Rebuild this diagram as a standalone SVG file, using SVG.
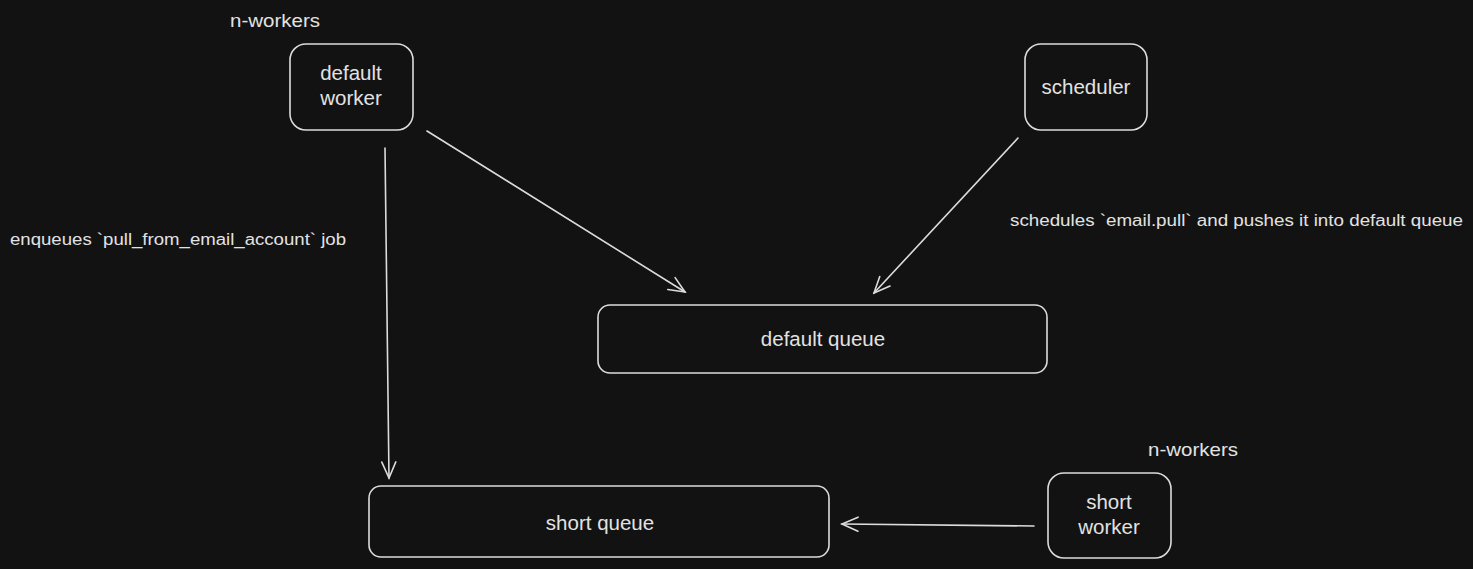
<svg xmlns="http://www.w3.org/2000/svg" width="1473" height="569" viewBox="0 0 1473 569">
<defs>
<style>
.box{fill:#121212;stroke:#dcdcdc;stroke-width:1.6}
.t{fill:#e2e2e2;font-family:"Liberation Sans",Arial,sans-serif;font-size:20.5px;text-anchor:middle}
.l{fill:#e2e2e2;font-family:"Liberation Sans",Arial,sans-serif;font-size:16px}
.n{fill:#e2e2e2;font-family:"Liberation Sans",Arial,sans-serif;font-size:19px}
.c{fill:none;stroke:#dcdcdc;stroke-width:1.6;stroke-linecap:round}
</style>
<marker id="ah" viewBox="0 0 20 20" refX="18" refY="10" markerWidth="20" markerHeight="20" markerUnits="userSpaceOnUse" orient="auto">
<path d="M2,3 L18,10 L2,17" fill="none" stroke="#dcdcdc" stroke-width="1.6" stroke-linecap="round"/>
</marker>
</defs>
<rect width="1473" height="569" fill="#121212"/>
<g id="labels">
<text class="n" x="230" y="27" textLength="90" lengthAdjust="spacingAndGlyphs">n-workers</text>
<text class="n" x="1148" y="456" textLength="90" lengthAdjust="spacingAndGlyphs">n-workers</text>
<text class="l" x="10" y="245" textLength="336" lengthAdjust="spacingAndGlyphs">enqueues `pull_from_email_account` job</text>
<text class="l" x="1010" y="226" textLength="453" lengthAdjust="spacingAndGlyphs">schedules `email.pull` and pushes it into default queue</text>
</g>
<g id="default-worker">
<rect class="box" x="290" y="44" width="123" height="86" rx="16"/>
<text class="t" x="351" y="80">default</text>
<text class="t" x="351" y="105">worker</text>
</g>
<g id="scheduler">
<rect class="box" x="1025" y="44" width="122" height="86" rx="16"/>
<text class="t" x="1086" y="94">scheduler</text>
</g>
<g id="default-queue">
<rect class="box" x="598" y="305" width="449" height="68" rx="12"/>
<text class="t" x="823" y="346">default queue</text>
</g>
<g id="short-queue">
<rect class="box" x="369" y="486" width="460" height="71" rx="12"/>
<text class="t" x="600" y="530">short queue</text>
</g>
<g id="short-worker">
<rect class="box" x="1048" y="473" width="123" height="85" rx="16"/>
<text class="t" x="1109" y="509">short</text>
<text class="t" x="1109" y="534">worker</text>
</g>
<g id="connectors">
<path class="c" d="M385,148 L389,478" marker-end="url(#ah)"/>
<path class="c" d="M427,131 L685,292" marker-end="url(#ah)"/>
<path class="c" d="M1018,138 L874,293" marker-end="url(#ah)"/>
<path class="c" d="M1034,526 L842,524" marker-end="url(#ah)"/>
</g>
</svg>
